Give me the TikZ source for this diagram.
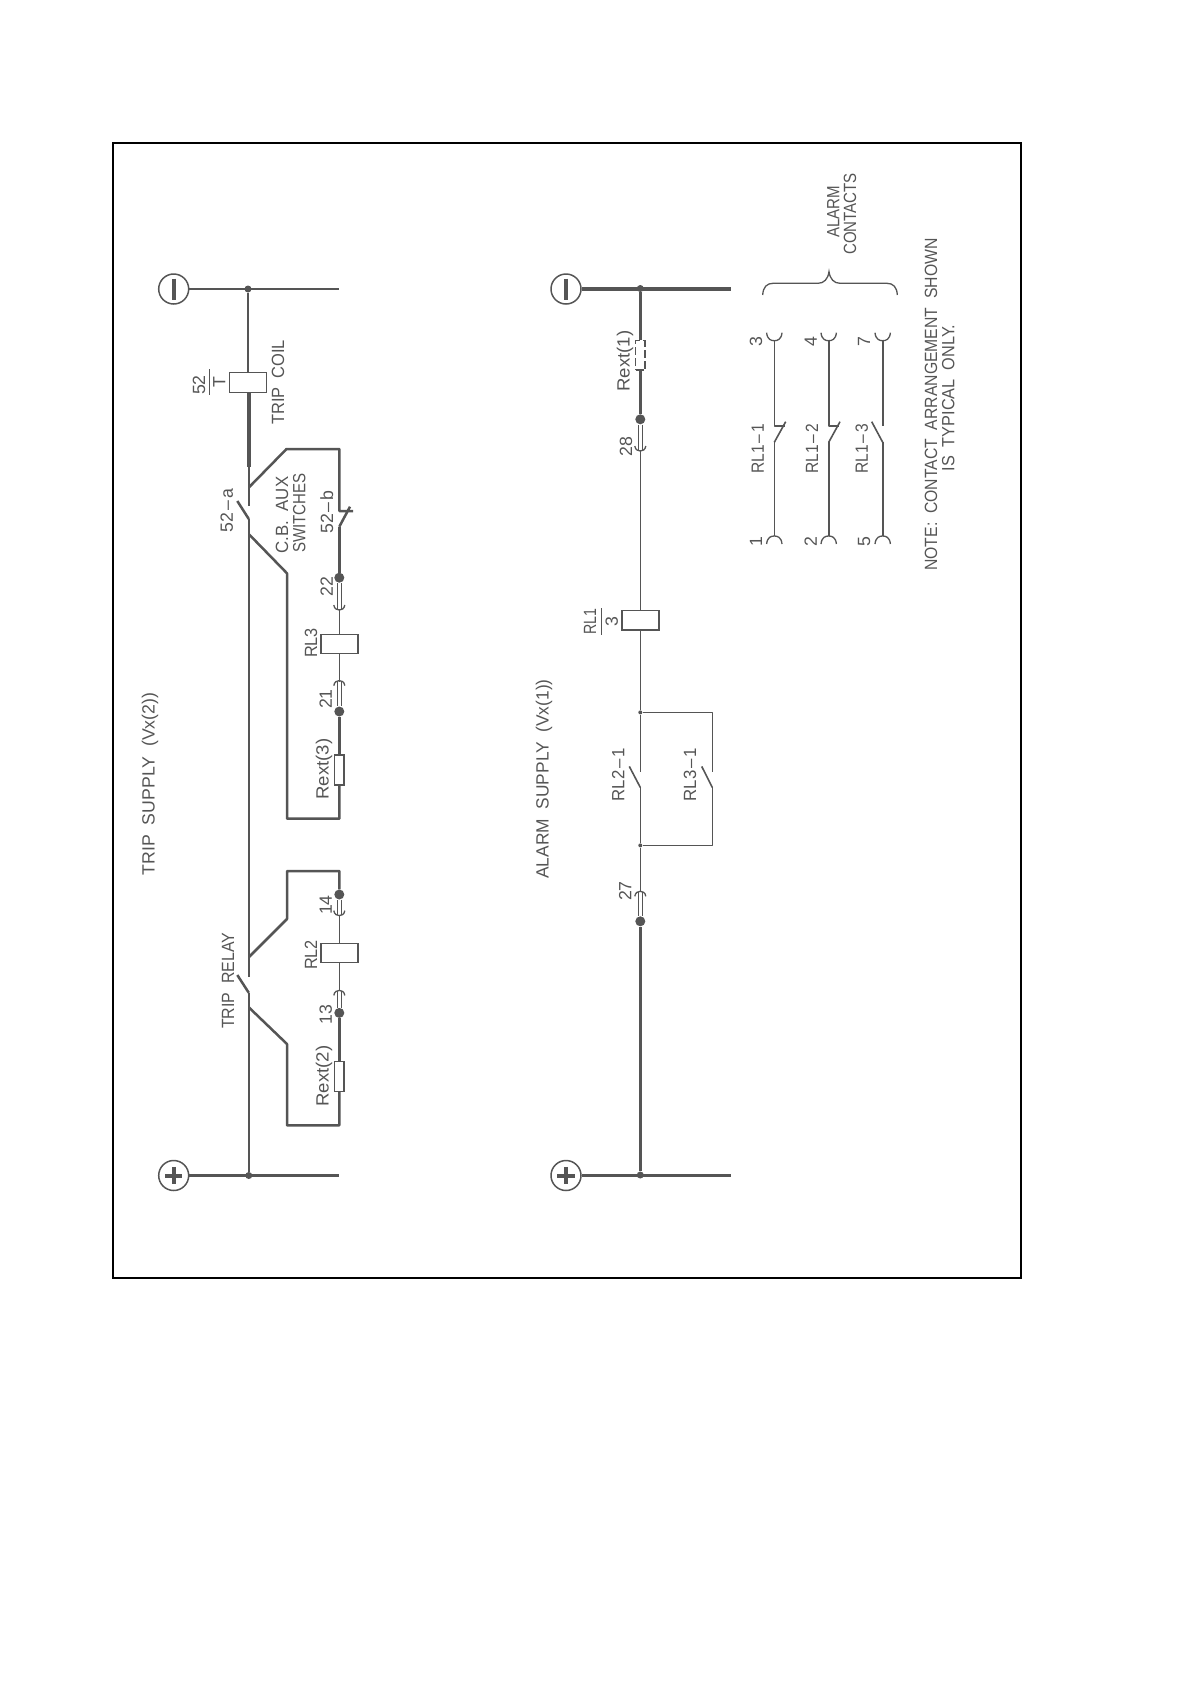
\documentclass[tikz,border=0pt]{standalone}
\usepackage{fontspec}
\setmainfont{Liberation Sans}
\usetikzlibrary{calc}
\definecolor{ink}{HTML}{555555}

\begin{document}
\begin{tikzpicture}[x=1pt,y=-1pt,
    wire/.style={draw=ink,line width=1.6pt},
    midwire/.style={draw=ink,line width=2.5pt},
    heavy/.style={draw=ink,line width=3.4pt},
    lbl/.style={rotate=90,inner sep=0pt,text=ink,font=\fontsize{17.7}{19}\selectfont},
    supply/.style={circle,draw=ink,line width=1.5pt,minimum size=30pt,inner sep=0pt},
    coil/.style={rectangle,draw=ink,line width=1.5pt,fill=white,minimum width=37pt,minimum height=20pt,inner sep=0pt},
    rext/.style={rectangle,draw=ink,line width=1.3pt,fill=white,minimum width=9.5pt,minimum height=30pt,inner sep=0pt},
    bigdot/.style={circle,fill=ink,minimum size=10pt,inner sep=0pt},
    smalldot/.style={circle,fill=ink,minimum size=7pt,inner sep=0pt},
    tinydot/.style={circle,fill=ink,minimum size=4pt,inner sep=0pt},
    plug/.style={draw=ink,line width=1.3pt,double=white,double distance=3pt},
    cup/.pic={\draw[draw=ink,line width=1.3pt] (-5.5,-4) .. controls (-5,0) and (-2,1) .. (0,1) .. controls (2,1) and (5,0) .. (5.5,-4);},
    bigcup/.pic={\draw[draw=ink,line width=1.3pt] (-7.7,-8) .. controls (-7,-1) and (-3,0) .. (0,0) .. controls (3,0) and (7,-1) .. (7.7,-8);}]

  \useasboundingbox (0,0) rectangle (1190,1684);
  \draw[black,line width=2.2pt] (112.7,142.7) rectangle (1021,1278);

  % trip supply
  \node[supply] (negA) at (173.7,289) {};
  \node[supply] (posA) at (173.7,1175.5) {};
  \node[smalldot] (jA) at (248,289) {};
  \node[smalldot] (jB) at (248.8,1175.5) {};
  \coordinate (endA) at (339,289);
  \coordinate (endB) at (339,1175.5);
  \draw[midwire] (negA) -- (endA);
  \draw[heavy] (posA) -- (endB);
  \draw[ink,line width=4pt] ($(negA)+(0,-10.5)$) -- ($(negA)+(0,10.5)$);
  \draw[ink,line width=4pt] ($(posA)+(-8.7,0)$) -- ($(posA)+(8.7,0)$);
  \draw[ink,line width=4pt] ($(posA)+(0,-8.7)$) -- ($(posA)+(0,8.7)$);

  \node[coil,minimum height=19.6pt] (coilT) at (248,382.5) {};
  \coordinate (coilEnd) at (248.8,466.7);
  \coordinate (a1) at (248.8,505.7);
  \coordinate (a2) at (248.8,519);
  \coordinate (a3) at (237.3,501);
  \draw[wire] (jA) -- (coilT.north);
  \draw[heavy] (coilT.south -| coilEnd) -- (coilEnd);
  \draw[midwire] (coilEnd) -- (a1);
  \draw[midwire] (a3) -- (a2);

  % cb aux loop
  \coordinate (u1) at (249,487.3);
  \coordinate (u2) at (286.5,449);
  \coordinate (u3) at (339.3,449);
  \coordinate (u4) at (339.3,511);
  \coordinate (u5) at (353,511);
  \coordinate (u6) at (350,506.7);
  \coordinate (u7) at (339.3,526.7);
  \node[bigdot] (d22) at (339.3,577.7) {};
  \coordinate (p22) at (339.3,609);
  \node[coil,minimum height=19.2pt] (rl3) at (339.3,644) {};
  \coordinate (p21) at (339.3,681.6);
  \node[bigdot] (d21) at (339.3,711.5) {};
  \node[rext] (rx3) at (339.3,770) {};
  \coordinate (v1) at (339.3,818.7);
  \coordinate (v2) at (287,818.7);
  \coordinate (v3) at (287,573.3);
  \coordinate (v4) at (249,534.3);
  \draw[midwire,line join=round] (u1) -- (u2) -- (u3) -- (u4) -- (u5);
  \draw[midwire] (u6) -- (u7);
  \draw[midwire] (u7) -- (d22);
  \draw[plug] (d22) -- (p22);
  \draw[wire] (p22) -- (rl3.north);
  \draw[wire] (rl3.south) -- (p21);
  \draw[plug] (p21) -- (d21);
  \draw[heavy] (d21) -- (rx3.north);
  \draw[midwire,line join=round] (rx3.south) -- (v1) -- (v2) -- (v3) -- (v4);
  \path (p22) pic {cup};
  \path (p21) pic[yscale=-1] {cup};

  % main rail and trip relay
  \coordinate (b1) at (248.8,977);
  \coordinate (b2) at (248.8,992.8);
  \coordinate (b3) at (237.3,975);
  \draw[midwire] (a2) -- (b1);
  \draw[midwire] (b3) -- (b2);
  \draw[midwire] (b2) -- (jB);

  \coordinate (w1) at (249,957);
  \coordinate (w2) at (287,919);
  \coordinate (w3) at (287,871);
  \coordinate (w4) at (339.3,871);
  \node[bigdot] (d14) at (339.3,894.5) {};
  \coordinate (p14) at (339.3,914.6);
  \node[coil,minimum height=19pt] (rl2) at (339.3,953) {};
  \coordinate (p13) at (339.3,991.4);
  \node[bigdot] (d13) at (339.3,1012.9) {};
  \node[rext] (rx2) at (339.3,1076.5) {};
  \coordinate (y1) at (339.3,1125.4);
  \coordinate (y2) at (287,1125.4);
  \coordinate (y3) at (287,1044);
  \coordinate (y4) at (249,1007.5);
  \draw[midwire,line join=round] (w1) -- (w2) -- (w3) -- (w4) -- (d14);
  \draw[plug] (d14) -- (p14);
  \draw[wire] (p14) -- (rl2.north);
  \draw[wire] (rl2.south) -- (p13);
  \draw[plug] (p13) -- (d13);
  \draw[heavy] (d13) -- (rx2.north);
  \draw[midwire,line join=round] (rx2.south) -- (y1) -- (y2) -- (y3) -- (y4);
  \path (p14) pic {cup};
  \path (p13) pic[yscale=-1] {cup};

  % alarm supply
  \node[supply] (negB) at (566,289) {};
  \node[supply] (posB) at (566,1175.5) {};
  \node[smalldot] (jC) at (640.3,288.5) {};
  \node[smalldot] (jD) at (640.3,1175) {};
  \coordinate (endC) at (730.7,289);
  \coordinate (endD) at (730.7,1175.5);
  \draw[heavy] (negB) -- (endC);
  \draw[heavy] (posB) -- (endD);
  \draw[ink,line width=4pt] ($(negB)+(0,-10.5)$) -- ($(negB)+(0,10.5)$);
  \draw[ink,line width=4pt] ($(posB)+(-8.7,0)$) -- ($(posB)+(8.7,0)$);
  \draw[ink,line width=4pt] ($(posB)+(0,-8.7)$) -- ($(posB)+(0,8.7)$);

  \node[rext,dash pattern=on 8pt off 3pt,minimum height=29.4pt] (rx1) at (640.3,355.4) {};
  \node[bigdot] (d28) at (640.3,419.3) {};
  \coordinate (p28) at (640.3,450);
  \node[coil,minimum height=19.7pt] (rl1) at (640.3,620.2) {};
  \node[tinydot] (jE) at (640.3,712.4) {};
  \coordinate (c1) at (640.3,771.8);
  \coordinate (c2) at (640.3,787.4);
  \coordinate (c3) at (629.3,766.4);
  \node[tinydot] (jF) at (640.3,845.4) {};
  \coordinate (p27) at (640.3,892.3);
  \node[bigdot] (d27) at (640.3,921.3) {};
  \coordinate (e1) at (712.3,712.4);
  \coordinate (e2) at (712.3,771.8);
  \coordinate (e3) at (712.3,787.4);
  \coordinate (e4) at (701.7,766.4);
  \coordinate (e5) at (712.3,845.4);
  \draw[heavy] (jC) -- (rx1.north);
  \draw[heavy] (rx1.south) -- (d28);
  \draw[plug] (d28) -- (p28);
  \draw[wire] (p28) -- (rl1.north);
  \draw[wire] (rl1.south) -- (jE);
  \draw[wire] (jE) -- (c1);
  \draw[wire] (c3) -- (c2);
  \draw[wire] (c2) -- (jF);
  \draw[wire] (jF) -- (p27);
  \draw[plug] (p27) -- (d27);
  \draw[heavy] (d27) -- (jD);
  \draw[wire,line join=round] (jE) -- (e1) -- (e2);
  \draw[wire] (e4) -- (e3);
  \draw[wire,line join=round] (e3) -- (e5) -- (jF);
  \path (p28) pic {cup};
  \path (p27) pic[yscale=-1] {cup};

  % alarm contacts
  \coordinate (t1) at (774.3,340.7);
  \coordinate (t2) at (828.7,340.7);
  \coordinate (t3) at (882.7,340.7);
  \coordinate (f1) at (774.3,536);
  \coordinate (f2) at (828.7,536);
  \coordinate (f3) at (882.7,536);
  \coordinate (k1) at (774.3,426);
  \coordinate (k2) at (828.7,426);
  \coordinate (k3) at (882.7,426);
  \coordinate (h1) at (785,426);
  \coordinate (h2) at (839.4,426);
  \coordinate (s1) at (774.3,442.3);
  \coordinate (s2) at (828.7,442.3);
  \coordinate (s3) at (882.7,442.3);
  \coordinate (q1) at (785.7,421.7);
  \coordinate (q2) at (840,421.7);
  \coordinate (q3) at (871.7,421.7);
  \draw[wire,line join=round] (t1) -- (k1) -- (h1);
  \draw[wire,line join=round] (t2) -- (k2) -- (h2);
  \draw[wire] (t3) -- (k3);
  \draw[wire] (q1) -- (s1);
  \draw[wire] (q2) -- (s2);
  \draw[wire] (q3) -- (s3);
  \draw[wire] (s1) -- (f1);
  \draw[wire] (s2) -- (f2);
  \draw[wire] (s3) -- (f3);
  \path (t1) pic {bigcup};
  \path (t2) pic {bigcup};
  \path (t3) pic {bigcup};
  \path (f1) pic[yscale=-1] {bigcup};
  \path (f2) pic[yscale=-1] {bigcup};
  \path (f3) pic[yscale=-1] {bigcup};

  % brace
  \coordinate (br1) at (762.7,295);
  \coordinate (br2) at (829,271.7);
  \coordinate (br3) at (897.3,295);
  \draw[ink,line width=1.3pt] (br1) .. controls (763,287) and (767,283.3) .. (773,283.3)
    -- (818,283.3) .. controls (824,283.3) and (828,279) .. (br2)
    .. controls (830,279) and (834,283.3) .. (840,283.3)
    -- (887,283.3) .. controls (893,283.3) and (897,287) .. (br3);

  % fractions
  \coordinate (fa1) at (209.3,369);
  \coordinate (fa2) at (209.3,395);
  \draw[ink,line width=1.3pt] (fa1) -- (fa2);
  \coordinate (fb1) at (601.7,608);
  \coordinate (fb2) at (601.7,635);
  \draw[ink,line width=1.3pt] (fb1) -- (fb2);

  % labels
  \node[lbl,xscale=.93] (lTripCoil) at (278,382.4) {TRIP\ \ COIL};
  \node[lbl] (l52n) at (199,385) {52};
  \node[lbl] (l52T) at (219.3,382) {T};
  \node[lbl] (l52a) at (226.7,510.7) {52\kern2pt–\kern2pt a};
  \node[lbl,xscale=.95] (lCB) at (282,515) {C.B.\ \ AUX};
  \node[lbl,xscale=.85] (lSw) at (299.3,513) {SWITCHES};
  \node[lbl] (l52b) at (326.7,512) {52\kern2pt–\kern2pt b};
  \node[lbl] (l22) at (326.7,586.7) {22};
  \node[lbl,xscale=.92] (lRL3) at (311,643) {RL3};
  \node[lbl] (l21) at (325.7,699) {21};
  \node[lbl,xscale=1.05] (lRext3) at (324,769) {Rext(3)};
  \node[lbl] (lTrip) at (150,784) {TRIP\ \ SUPPLY\ \ (Vx(2))};
  \node[lbl,xscale=.9] (lRelay) at (228,980.7) {TRIP\ \ RELAY};
  \node[lbl] (l14) at (325.7,905) {14};
  \node[lbl,xscale=.92] (lRL2) at (311,955) {RL2};
  \node[lbl] (l13) at (325.7,1014.4) {13};
  \node[lbl,xscale=1.05] (lRext2) at (324,1076) {Rext(2)};

  \node[lbl,xscale=1.05] (lRext1) at (625,361) {Rext(1)};
  \node[lbl] (l28) at (626,446.7) {28};
  \node[lbl,xscale=.8] (lRL1) at (590,622) {RL1};
  \node[lbl] (l3b) at (611.7,621.7) {3};
  \node[lbl,xscale=.98] (lAlarm) at (544,779) {ALARM\ \ SUPPLY\ \ (Vx(1))};
  \node[lbl,xscale=.95] (lRL21) at (618.3,774.5) {RL2\kern2pt–\kern2pt1};
  \node[lbl,xscale=.95] (lRL31) at (690,774.5) {RL3\kern2pt–\kern2pt1};
  \node[lbl] (l27) at (625.3,891) {27};

  \node[lbl,xscale=.85] (lAl) at (833.3,211.7) {ALARM};
  \node[lbl,xscale=.85] (lCon) at (850,214) {CONTACTS};
  \node[lbl] (l3) at (756,341.7) {3};
  \node[lbl] (l4) at (810.7,341.7) {4};
  \node[lbl] (l7) at (864,341.7) {7};
  \node[lbl] (l1) at (756,541.7) {1};
  \node[lbl] (l2) at (810.7,541.7) {2};
  \node[lbl] (l5) at (864,541.7) {5};
  \node[lbl,xscale=.88] (lC1) at (757.7,449) {RL1\kern2pt–\kern2pt1};
  \node[lbl,xscale=.88] (lC2) at (812,449) {RL1\kern2pt–\kern2pt2};
  \node[lbl,xscale=.88] (lC3) at (861.7,449) {RL1\kern2pt–\kern2pt3};
  \node[lbl,xscale=.89] (lNote) at (931,404.5) {NOTE:\ \ CONTACT\ \ ARRANGEMENT\ \ SHOWN};
  \node[lbl,xscale=.92] (lOnly) at (948.3,398) {IS\ \ TYPICAL\ \ ONLY.};
\end{tikzpicture}
\end{document}
